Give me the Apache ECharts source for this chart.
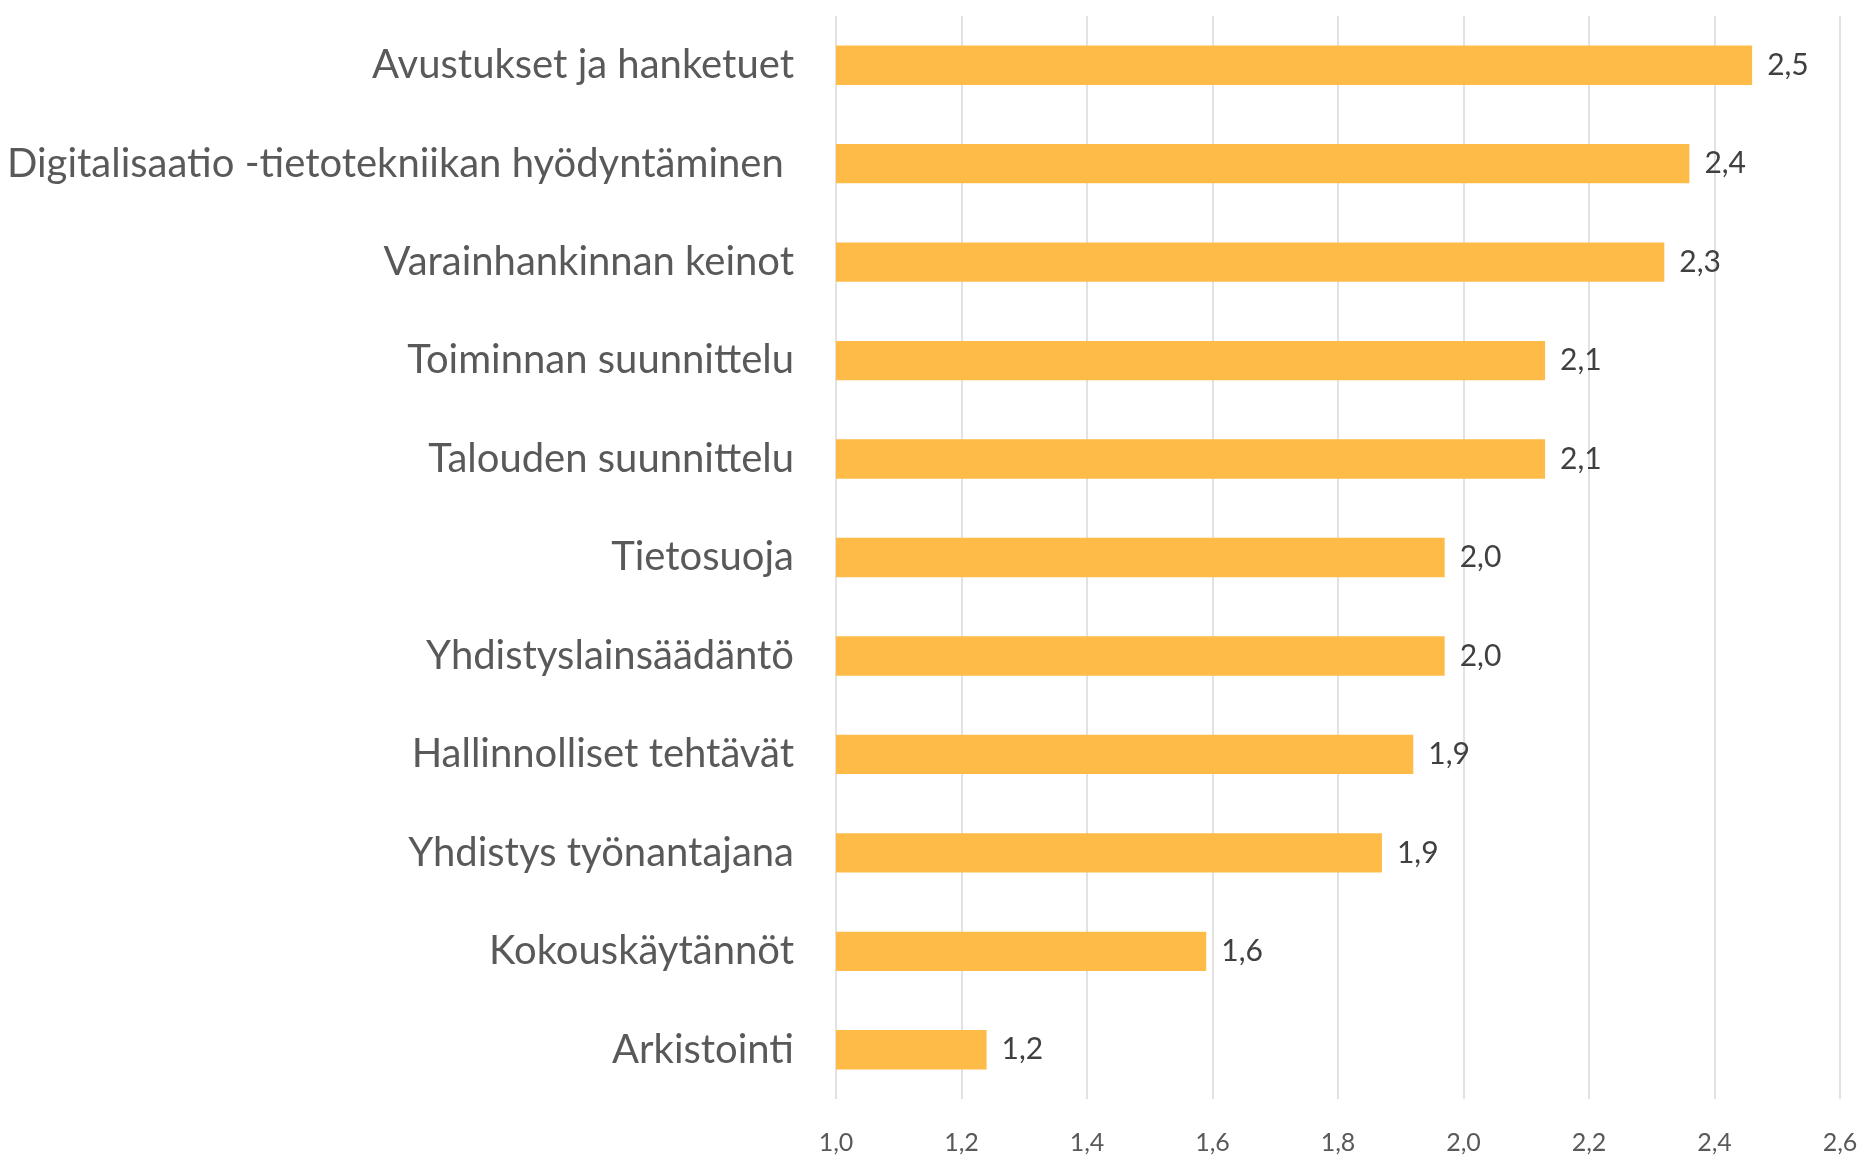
<!DOCTYPE html>
<html>
<head>
<meta charset="utf-8">
<title>Koulutustarpeet</title>
<script src="https://cdn.jsdelivr.net/npm/echarts@6/dist/echarts.min.js"></script>
<style>
  html, body { margin: 0; padding: 0; background: #fff; }
  #chart { width: 1861px; height: 1155px; }
</style>
</head>
<body>
<div id="chart"></div>
<script>
// categories, top to bottom
const categories = [
  'Avustukset ja hanketuet',
  'Digitalisaatio -tietotekniikan hyödyntäminen ',
  'Varainhankinnan keinot',
  'Toiminnan suunnittelu',
  'Talouden suunnittelu',
  'Tietosuoja',
  'Yhdistyslainsäädäntö',
  'Hallinnolliset tehtävät',
  'Yhdistys työnantajana',
  'Kokouskäytännöt',
  'Arkistointi'
];

// averages
const values = [2.46, 2.36, 2.32, 2.13, 2.13, 1.97, 1.97, 1.92, 1.87, 1.59, 1.24];

const axisMin = 1.0;
const axisMax = 2.6;
const axisStep = 0.2;

const fontFamily = 'Lato, "Liberation Sans", "Noto Sans", sans-serif';

function fiNumber(v) {
  return v.toFixed(1).replace('.', ',');
}

const chart = echarts.init(document.getElementById('chart'));

chart.setOption({
  animation: false,
  grid: { left: 836, right: 21, top: 16, bottom: 56 },
  xAxis: {
    type: 'value',
    min: axisMin,
    max: axisMax,
    interval: axisStep,
    axisLine: { show: false },
    axisTick: { show: false },
    axisLabel: {
      margin: 31,
      fontSize: 25,
      color: '#595959',
      fontFamily: fontFamily,
      formatter: fiNumber
    },
    splitLine: { lineStyle: { color: '#d9d9d9', width: 1.5 } }
  },
  yAxis: {
    type: 'category',
    inverse: true,
    data: categories,
    axisLine: { show: false },
    axisTick: { show: false },
    axisLabel: {
      margin: 42,
      fontSize: 40,
      color: '#595959',
      fontFamily: fontFamily
    }
  },
  series: [{
    type: 'bar',
    data: values,
    barWidth: '40%',
    itemStyle: { color: '#ffbb48' },
    label: {
      show: true,
      position: 'right',
      distance: 15,
      fontSize: 30,
      color: '#404040',
      fontFamily: fontFamily,
      formatter: p => fiNumber(p.value)
    }
  }]
});
</script>
</body>
</html>
